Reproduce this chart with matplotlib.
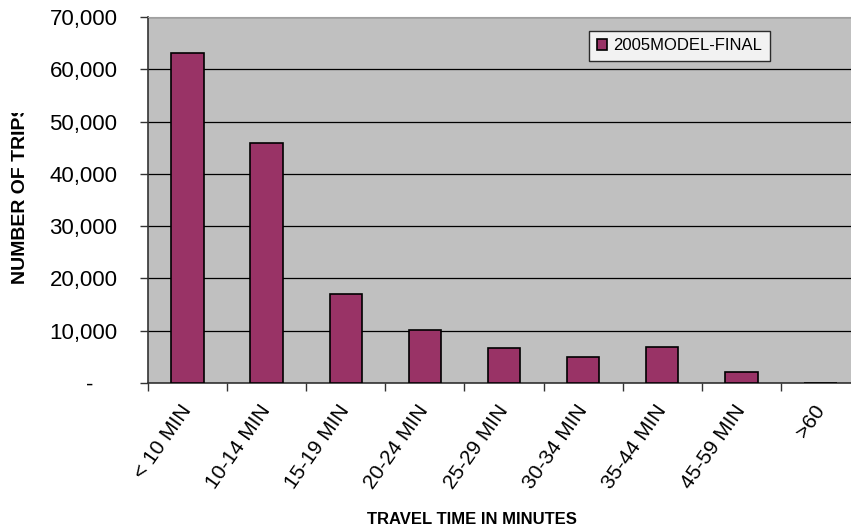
import matplotlib
matplotlib.use('Agg')
import matplotlib.pyplot as plt
import numpy as np
from matplotlib.ticker import FixedLocator, FuncFormatter
from matplotlib.patches import Rectangle

categories = ['< 10 MIN', '10-14 MIN', '15-19 MIN', '20-24 MIN', '25-29 MIN',
              '30-34 MIN', '35-44 MIN', '45-59 MIN', '>60']
trips = [63100, 45900, 17000, 10050, 6600, 5000, 6850, 2100, 0]
series_name = '2005MODEL-FINAL'

plt.rcParams['font.family'] = ['Liberation Sans', 'DejaVu Sans']

W, H = 851, 531
fig = plt.figure(figsize=(W / 100, H / 100), dpi=100)
# plot area runs past the right edge of the picture, as in the reference
ax = fig.add_axes([148 / W, 1 - 383 / H, (860 - 148) / W, (383 - 17) / H])
ax.set_facecolor('#c0c0c0')

x = np.arange(len(categories))
ax.bar(x, trips, width=0.41, color='#993366', edgecolor='black', linewidth=1.2,
       zorder=3, label=series_name)

ax.set_xlim(-0.5, len(categories) - 0.5)
ax.set_ylim(0, 70000)
ax.set_yticks(np.arange(0, 70001, 10000))
ax.yaxis.set_major_formatter(FuncFormatter(
    lambda v, p: '-    ' if v == 0 else '{:,.0f}'.format(v)))
ax.yaxis.grid(True, color='black', linewidth=0.9, zorder=1)
ax.set_axisbelow(True)

ax.set_xticks(x)
ax.set_xticklabels(categories, rotation=55, rotation_mode='anchor',
                   ha='right', va='center')
ax.xaxis.set_minor_locator(FixedLocator(np.arange(-0.5, len(categories), 1)))
ax.tick_params(axis='x', which='major', length=0, pad=17, labelsize=15)
ax.tick_params(axis='x', which='minor', length=6, width=1, color='#333333')
ax.tick_params(axis='y', length=6, width=1, color='#333333', pad=16, labelsize=16)

for s in ['left', 'bottom']:
    ax.spines[s].set_color('#333333')
    ax.spines[s].set_linewidth(1.2)
ax.spines['top'].set_color('#a0a0a0')
ax.spines['right'].set_visible(False)

leg = ax.legend(loc='upper left', bbox_to_anchor=((589 - 148) / 712, 1 - (31 - 17) / 366),
                fontsize=12, frameon=True, fancybox=False, shadow=False,
                handlelength=0.6, handleheight=0.6, handletextpad=0.4,
                borderpad=0.45, borderaxespad=0)
leg.get_frame().set_edgecolor('black')
leg.get_frame().set_linewidth(1)
leg.get_frame().set_facecolor('white')
leg.set_zorder(5)

fig.text(472 / W, 1 - 519 / H, 'TRAVEL TIME IN MINUTES', ha='center', va='center',
         fontsize=12, fontweight='bold')
fig.text(21 / W, 1 - 284 / H, 'NUMBER OF TRIPS', rotation=90, ha='center',
         va='bottom', fontsize=14, fontweight='bold')
# the reference cuts the axis title off at the top, through the S
fig.patches.append(Rectangle((0, 1 - 113 / H), 40 / W, 113 / H, transform=fig.transFigure,
                             facecolor='white', edgecolor='none', zorder=10))

fig.savefig('out.png', dpi=100)
